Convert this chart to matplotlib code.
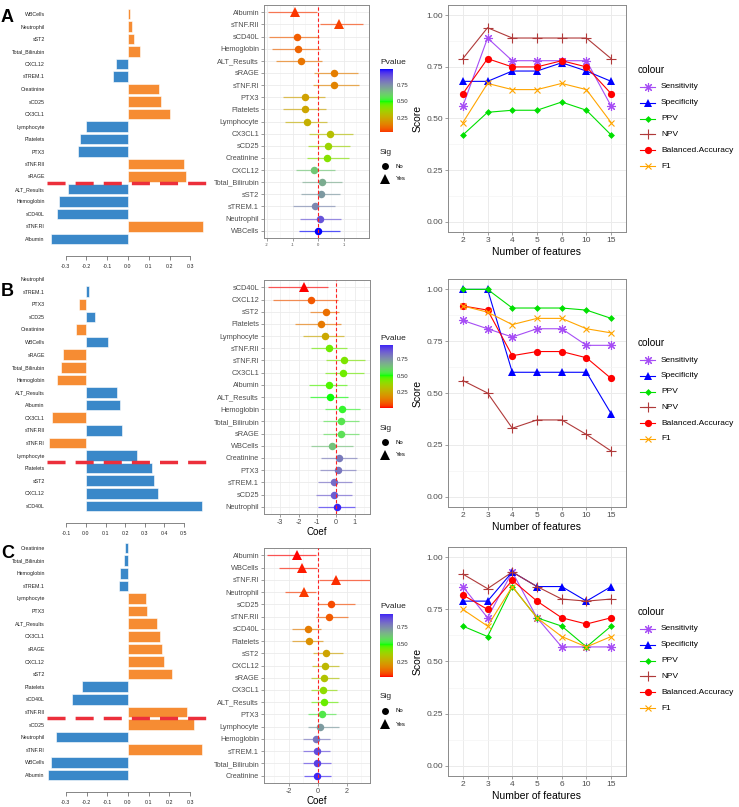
import numpy as np
import matplotlib
matplotlib.use('Agg')
import matplotlib.pyplot as plt
from matplotlib.colors import ListedColormap

plt.rcParams['font.family'] = ['Liberation Sans', 'DejaVu Sans']

W, H = 739, 807

# ---------------- data ----------------
bar_a_names = ['WBCells', 'Neutrophil', 'sST2', 'Total_Bilirubin', 'CXCL12', 'sTREM.1', 'Creatinine',
               'sCD25', 'CX3CL1', 'Lymphocyte', 'Platelets', 'PTX3', 'sTNF.RII', 'sRAGE',
               'ALT_Results', 'Hemoglobin', 'sCD40L', 'sTNF.RI', 'Albumin']
bar_a_vals = [0.01, 0.02, 0.03, 0.06, -0.06, -0.07, 0.15, 0.16, 0.20, -0.20, -0.23, -0.24, 0.27, 0.28,
              -0.29, -0.33, -0.34, 0.36, -0.37]

bar_b_names = ['Neutrophil', 'sTREM.1', 'PTX3', 'sCD25', 'Creatinine', 'WBCells', 'sRAGE',
               'Total_Bilirubin', 'Hemoglobin', 'ALT_Results', 'Albumin', 'CX3CL1', 'sTNF.RII',
               'sTNF.RI', 'Lymphocyte', 'Platelets', 'sST2', 'CXCL12', 'sCD40L']
bar_b_vals = [0.002, 0.015, -0.036, 0.044, -0.053, 0.112, -0.119, -0.126, -0.146, 0.158, 0.175,
              -0.173, 0.184, -0.189, 0.259, 0.337, 0.345, 0.366, 0.59]

bar_c_names = ['Creatinine', 'Total_Bilirubin', 'Hemoglobin', 'sTREM.1', 'Lymphocyte', 'PTX3',
               'ALT_Results', 'CX3CL1', 'sRAGE', 'CXCL12', 'sST2', 'Platelets', 'sCD40L', 'sTNF.RII',
               'sCD25', 'Neutrophil', 'sTNF.RI', 'WBCells', 'Albumin']
bar_c_vals = [-0.013, -0.021, -0.04, -0.045, 0.089, 0.092, 0.14, 0.155, 0.163, 0.176, 0.214, -0.222,
              -0.269, 0.285, 0.319, -0.346, 0.357, -0.37, -0.385]

fa_names = ['Albumin', 'sTNF.RII', 'sCD40L', 'Hemoglobin', 'ALT_Results', 'sRAGE', 'sTNF.RI', 'PTX3',
            'Platelets', 'Lymphocyte', 'CX3CL1', 'sCD25', 'Creatinine', 'CXCL12', 'Total_Bilirubin',
            'sST2', 'sTREM.1', 'Neutrophil', 'WBCells']
fa_coef = [-0.9, 0.82, -0.82, -0.78, -0.67, 0.63, 0.63, -0.51, -0.51, -0.43, 0.47, 0.39, 0.35, -0.16,
           0.16, 0.12, -0.12, 0.08, 0.0]
fa_lo = [-1.96, 0.08, -1.92, -1.8, -1.65, -0.16, -0.2, -1.37, -1.37, -1.29, -0.35, -0.4, -0.43, -0.86,
         -0.63, -0.67, -0.98, -0.71, -0.75]
fa_hi = [-0.04, 1.76, 0.04, 0.08, 0.16, 1.57, 1.6, 0.27, 0.31, 0.35, 1.37, 1.25, 1.2, 0.67, 0.94, 0.86,
         0.67, 0.9, 0.86]
fa_p = [0.04, 0.05, 0.09, 0.1, 0.13, 0.15, 0.16, 0.23, 0.24, 0.27, 0.31, 0.37, 0.41, 0.63, 0.69, 0.73,
        0.77, 0.88, 0.99]
fa_sig = [1, 1, 0, 0, 0, 0, 0, 0, 0, 0, 0, 0, 0, 0, 0, 0, 0, 0, 0]

fb_names = ['sCD40L', 'CXCL12', 'sST2', 'Platelets', 'Lymphocyte', 'sTNF.RII', 'sTNF.RI', 'CX3CL1',
            'Albumin', 'ALT_Results', 'Hemoglobin', 'Total_Bilirubin', 'sRAGE', 'WBCells', 'Creatinine',
            'PTX3', 'sTREM.1', 'sCD25', 'Neutrophil']
fb_coef = [-1.71, -1.34, -0.55, -0.8, -0.59, -0.38, 0.43, 0.39, -0.36, -0.3, 0.32, 0.27, 0.25, -0.21,
           0.14, 0.12, -0.11, -0.09, 0.04]
fb_lo = [-3.64, -3.37, -1.39, -2.2, -1.76, -1.34, -0.55, -0.59, -1.44, -1.38, -0.59, -0.68, -0.68,
         -1.34, -0.8, -0.86, -0.96, -1.07, -0.96]
fb_hi = [-0.43, 0.1, 0.16, 0.27, 0.43, 0.6, 1.55, 1.5, 0.59, 0.64, 1.28, 1.23, 1.23, 0.91, 1.12, 1.07,
         0.86, 0.86, 1.02]
fb_p = [0.01, 0.08, 0.12, 0.14, 0.25, 0.44, 0.42, 0.44, 0.47, 0.5, 0.52, 0.56, 0.57, 0.64, 0.8, 0.81,
        0.83, 0.86, 0.96]
fb_sig = [1, 0, 0, 0, 0, 0, 0, 0, 0, 0, 0, 0, 0, 0, 0, 0, 0, 0, 0]

fc_names = ['Albumin', 'WBCells', 'sTNF.RI', 'Neutrophil', 'sCD25', 'sTNF.RII', 'sCD40L', 'Platelets',
            'sST2', 'CXCL12', 'sRAGE', 'CX3CL1', 'ALT_Results', 'PTX3', 'Lymphocyte', 'Hemoglobin',
            'sTREM.1', 'Total_Bilirubin', 'Creatinine']
fc_coef = [-1.45, -1.1, 1.24, -0.97, 0.9, 0.77, -0.68, -0.6, 0.53, 0.47, 0.43, 0.36, 0.39, 0.28, 0.16,
           -0.14, -0.07, -0.07, -0.07]
fc_lo = [-3.5, -2.7, 0.07, -2.28, -0.07, -0.14, -1.8, -1.8, -0.32, -0.39, -0.48, -0.48, -0.48, -0.68,
         -0.68, -1.04, -1.06, -1.04, -0.95]
fc_hi = [-0.13, -0.07, 3.9, -0.14, 2.55, 2.1, 0.2, 0.37, 1.7, 1.45, 1.43, 1.34, 1.36, 1.24, 1.45, 0.83,
         0.83, 0.9, 0.9]
fc_p = [0.03, 0.04, 0.05, 0.06, 0.08, 0.1, 0.16, 0.2, 0.25, 0.3, 0.33, 0.4, 0.45, 0.55, 0.72, 0.8,
        0.88, 0.9, 0.94]
fc_sig = [1, 1, 1, 1, 0, 0, 0, 0, 0, 0, 0, 0, 0, 0, 0, 0, 0, 0, 0]

features = ['2', '3', '4', '5', '6', '10', '15']
metrics = ['Sensitivity', 'Specificity', 'PPV', 'NPV', 'Balanced.Accuracy', 'F1']
score_a = {
    'Sensitivity': [0.56, 0.89, 0.78, 0.78, 0.78, 0.78, 0.56],
    'Specificity': [0.68, 0.68, 0.73, 0.73, 0.77, 0.73, 0.68],
    'PPV': [0.42, 0.53, 0.54, 0.54, 0.58, 0.54, 0.42],
    'NPV': [0.79, 0.94, 0.89, 0.89, 0.89, 0.89, 0.79],
    'Balanced.Accuracy': [0.62, 0.79, 0.75, 0.75, 0.78, 0.75, 0.62],
    'F1': [0.48, 0.67, 0.64, 0.64, 0.67, 0.64, 0.48],
}
score_b = {
    'Sensitivity': [0.85, 0.81, 0.77, 0.81, 0.81, 0.73, 0.73],
    'Specificity': [1.0, 1.0, 0.6, 0.6, 0.6, 0.6, 0.4],
    'PPV': [1.0, 1.0, 0.91, 0.91, 0.91, 0.9, 0.86],
    'NPV': [0.56, 0.5, 0.33, 0.37, 0.37, 0.3, 0.22],
    'Balanced.Accuracy': [0.92, 0.9, 0.68, 0.7, 0.7, 0.67, 0.57],
    'F1': [0.92, 0.89, 0.83, 0.86, 0.86, 0.81, 0.79],
}
score_c = {
    'Sensitivity': [0.86, 0.71, 0.93, 0.71, 0.57, 0.57, 0.57],
    'Specificity': [0.79, 0.79, 0.93, 0.86, 0.86, 0.79, 0.86],
    'PPV': [0.67, 0.62, 0.86, 0.71, 0.67, 0.57, 0.67],
    'NPV': [0.92, 0.85, 0.93, 0.86, 0.8, 0.79, 0.8],
    'Balanced.Accuracy': [0.82, 0.75, 0.89, 0.79, 0.71, 0.68, 0.71],
    'F1': [0.75, 0.67, 0.86, 0.71, 0.62, 0.57, 0.62],
}

metric_style = {
    'Sensitivity': dict(color='#A64DF5', marker=(8, 2, 0), ms=6.5, mew=0.8),
    'Specificity': dict(color='#0000FF', marker='^', ms=5.5, mew=0),
    'PPV': dict(color='#00E000', marker='D', ms=3.5, mew=0),
    'NPV': dict(color='#B03A3A', marker='+', ms=7, mew=0.8),
    'Balanced.Accuracy': dict(color='#FF0000', marker='o', ms=5.2, mew=0),
    'F1': dict(color='#FFA500', marker='x', ms=5, mew=0.8),
}

BLUE, ORANGE = '#3A88C9', '#F68C33'
GREY = '#4D4D4D'


def box(x0, y0, x1, y1):
    return [x0 / W, 1 - y1 / H, (x1 - x0) / W, (y1 - y0) / H]


# ---- red -> green -> blue gradient interpolated in CIELAB (like ggplot gradient2)
M = np.array([[0.4124, 0.3576, 0.1805], [0.2126, 0.7152, 0.0722], [0.0193, 0.1192, 0.9505]])
WP = np.array([0.95047, 1.0, 1.08883])


def to_lab(rgb):
    c = np.asarray(rgb, float)
    c = np.where(c > 0.04045, ((c + 0.055) / 1.055) ** 2.4, c / 12.92)
    xyz = M @ c / WP
    f = np.where(xyz > 0.008856, np.cbrt(xyz), 7.787 * xyz + 16 / 116)
    return np.array([116 * f[1] - 16, 500 * (f[0] - f[1]), 200 * (f[1] - f[2])])


def from_lab(lab):
    fy = (lab[0] + 16) / 116
    f = np.array([fy + lab[1] / 500, fy, fy - lab[2] / 200])
    xyz = np.where(f ** 3 > 0.008856, f ** 3, (f - 16 / 116) / 7.787) * WP
    c = np.linalg.solve(M, xyz)
    c = np.where(c > 0.0031308, 1.055 * np.clip(c, 0, None) ** (1 / 2.4) - 0.055, 12.92 * c)
    return np.clip(c, 0, 1)


stops = [to_lab([1, 0, 0]), to_lab([0, 1, 0]), to_lab([0, 0, 1])]
ramp = []
for t in np.linspace(0, 1, 256):
    if t < 0.5:
        lab = stops[0] + (stops[1] - stops[0]) * (t / 0.5)
    else:
        lab = stops[1] + (stops[2] - stops[1]) * ((t - 0.5) / 0.5)
    ramp.append(from_lab(lab))
pcmap = ListedColormap(ramp)


def pcolour(p, pmin, pmax):
    dev = max(abs(pmin - 0.5), abs(pmax - 0.5))
    return pcmap((np.asarray(p) - 0.5) / dev / 2 + 0.5)


fig = plt.figure(figsize=(W / 100, H / 100), dpi=100)
over = fig.add_axes([0, 0, 1, 1], zorder=10)
over.set_xlim(0, W)
over.set_ylim(H, 0)
over.axis('off')
over.patch.set_alpha(0)


def barpanel(rect, names, vals, pos_col, neg_col, xlim, ticks, cut):
    ax = fig.add_axes(rect)
    n = len(names)
    # spine position first: moving a spine resets the tick label styling
    for s in ['top', 'right', 'left']:
        ax.spines[s].set_visible(False)
    ax.spines['bottom'].set_position(('outward', 7.5))
    ax.spines['bottom'].set_linewidth(0.5)
    ax.spines['bottom'].set_color('#555555')
    cols = [pos_col if v > 0 else neg_col for v in vals]
    ax.barh(np.arange(n), vals, height=0.84, color=cols, edgecolor='white', linewidth=0.4)
    ax.set_ylim(n - 0.5, -0.5)
    ax.set_xlim(xlim)
    ax.set_yticks(np.arange(n), names, fontsize=3.8, color='#222222')
    ax.tick_params(axis='y', length=0, pad=1.5)
    ax.set_xticks(ticks, [f'{t:.1f}' for t in ticks], fontsize=3.8, color='#222222')
    ax.tick_params(axis='x', length=3, width=0.5, color='#555555', pad=3, labelsize=3.8)
    ax.spines['bottom'].set_bounds(ticks[0], ticks[-1])
    ax.plot(xlim, [cut, cut], color='#EC2F3B', lw=2.5, dashes=(5.2, 2.9), solid_capstyle='butt',
            clip_on=False, zorder=3)
    ax.patch.set_alpha(0)


barpanel(box(47, 7.75, 209, 245.25), bar_a_names, bar_a_vals, ORANGE, BLUE, (-0.39, 0.39),
         [-0.3, -0.2, -0.1, 0.0, 0.1, 0.2, 0.3], 13.5)
barpanel(box(47, 272.7, 209, 512.3), bar_b_names, bar_b_vals, BLUE, ORANGE, (-0.199, 0.628),
         [-0.1, 0.0, 0.1, 0.2, 0.3, 0.4, 0.5], 14.5)
barpanel(box(47, 541.7, 209, 781.3), bar_c_names, bar_c_vals, ORANGE, BLUE, (-0.391, 0.391),
         [-0.3, -0.2, -0.1, 0.0, 0.1, 0.2, 0.3], 13.5)


def forest(rect, names, coef, lo, hi, pv, sig, xlim, ticks, minor, tsize, xlabel):
    ax = fig.add_axes(rect)
    n = len(names)
    pmin, pmax = min(pv), max(pv)
    cols = pcolour(pv, pmin, pmax)
    for i in range(n):
        ax.plot([lo[i], hi[i]], [i, i], color=cols[i], lw=0.9, alpha=0.65, solid_capstyle='butt', zorder=2)
        if sig[i]:
            ax.plot(coef[i], i, marker='^', ms=7, color=cols[i], mew=0, zorder=3)
        else:
            ax.plot(coef[i], i, marker='o', ms=5.4, color=cols[i], mew=0, zorder=3)
    ax.axvline(0, color='#FF2020', lw=0.8, dashes=(3, 2), zorder=4)
    ax.set_xlim(xlim)
    ax.set_ylim(n - 1 + 0.6, -0.6)
    ax.set_yticks(np.arange(n), names, fontsize=5.3, color=GREY)
    ax.set_xticks(ticks, [str(t) for t in ticks], fontsize=tsize, color=GREY)
    ax.set_xticks(minor, minor=True)
    ax.tick_params(which='both', length=2, width=0.5, color='#777777', pad=1.5)
    ax.tick_params(which='minor', length=0)
    ax.grid(which='major', color='#EBEBEB', lw=0.6, zorder=0)
    ax.grid(which='minor', axis='x', color='#F4F4F4', lw=0.4, zorder=0)
    ax.set_axisbelow(True)
    for s in ax.spines.values():
        s.set_color('#8A8A8A')
        s.set_linewidth(0.7)
    if xlabel:
        ax.set_xlabel('Coef', fontsize=7, labelpad=1)
    return pmin, pmax


def plegend(pmin, pmax, y0):
    cax = fig.add_axes(box(380, y0 + 7, 393, y0 + 70))
    grad = np.linspace(pmin, pmax, 200)
    cax.imshow(pcolour(grad, pmin, pmax)[:, None, :], aspect='auto', origin='lower',
               extent=[0, 1, pmin, pmax])
    cax.set_xticks([])
    cax.yaxis.tick_right()
    cax.set_yticks([0.25, 0.5, 0.75], ['0.25', '0.50', '0.75'], fontsize=4.3, color='#333333')
    cax.tick_params(axis='y', length=0, pad=3)
    for s in cax.spines.values():
        s.set_visible(False)
    over.text(380, y0, 'Pvalue', fontsize=6, va='center', ha='left', color='#222222')
    over.text(380, y0 + 90, 'Sig', fontsize=6, va='center', ha='left', color='#222222')
    over.plot(385, y0 + 104, marker='o', ms=5, color='black', mew=0)
    over.text(396, y0 + 104, 'No', fontsize=4.3, va='center')
    over.plot(385, y0 + 117, marker='^', ms=6.5, color='black', mew=0)
    over.text(396, y0 + 117, 'Yes', fontsize=4.3, va='center')


r = forest(box(264, 5, 369, 238), fa_names, fa_coef, fa_lo, fa_hi, fa_p, fa_sig, (-2.12, 2.0),
           [-2, -1, 0, 1], [-1.5, -0.5, 0.5, 1.5], 3.0, False)
plegend(r[0], r[1], 62)
r = forest(box(264, 280, 370, 514), fb_names, fb_coef, fb_lo, fb_hi, fb_p, fb_sig, (-3.85, 1.82),
           [-3, -2, -1, 0, 1], [-3.5, -2.5, -1.5, -0.5, 0.5, 1.5], 5.2, True)
plegend(r[0], r[1], 338)
r = forest(box(264, 548, 370, 783), fc_names, fc_coef, fc_lo, fc_hi, fc_p, fc_sig, (-3.72, 3.59),
           [-2, 0, 2], [-3, -1, 1, 3], 5.2, True)
plegend(r[0], r[1], 607)


def linepanel(rect, scores, leg_y):
    ax = fig.add_axes(rect)
    x = np.arange(len(features))
    for m in metrics:
        st = metric_style[m]
        ax.plot(x, scores[m], color=st['color'], lw=0.8, marker=st['marker'], ms=st['ms'],
                mew=st['mew'], zorder=3)
    ax.set_xlim(-0.6, len(features) - 0.4)
    ax.set_ylim(-0.05, 1.05)
    ax.set_xticks(x, features, fontsize=6, color=GREY)
    yt = [0, 0.25, 0.5, 0.75, 1.0]
    ax.set_yticks(yt, [f'{v:.2f}' for v in yt], fontsize=6, color=GREY)
    ax.set_yticks([0.125, 0.375, 0.625, 0.875], minor=True)
    ax.tick_params(which='major', length=2, width=0.5, color='#777777', pad=1.5)
    ax.tick_params(which='minor', length=0)
    ax.grid(which='major', color='#EBEBEB', lw=0.7)
    ax.grid(which='minor', axis='y', color='#F4F4F4', lw=0.5)
    ax.set_axisbelow(True)
    for s in ax.spines.values():
        s.set_color('#8A8A8A')
        s.set_linewidth(0.7)
    ax.set_xlabel('Number of features', fontsize=7.5, labelpad=2)
    ax.set_ylabel('Score', fontsize=7.5, labelpad=3)
    over.text(638, leg_y, 'colour', fontsize=7.2, va='center', ha='left')
    for k, m in enumerate(metrics):
        st = metric_style[m]
        yy = leg_y + 17 + k * 15.8
        over.plot([640, 655], [yy, yy], color=st['color'], lw=0.8)
        over.plot(647.5, yy, marker=st['marker'], ms=st['ms'], mew=st['mew'], color=st['color'])
        over.text(661, yy, m, fontsize=6, va='center', ha='left')


linepanel(box(448, 5, 626, 232), score_a, 70)
linepanel(box(448, 279, 626, 507), score_b, 343)
linepanel(box(448, 547, 626, 776), score_c, 612)

for lab, y in [('A', 18), ('B', 292), ('C', 553)]:
    over.text(1, y, lab, fontsize=13, fontweight='bold', va='center', ha='left')

fig.savefig('out.png', dpi=100)
